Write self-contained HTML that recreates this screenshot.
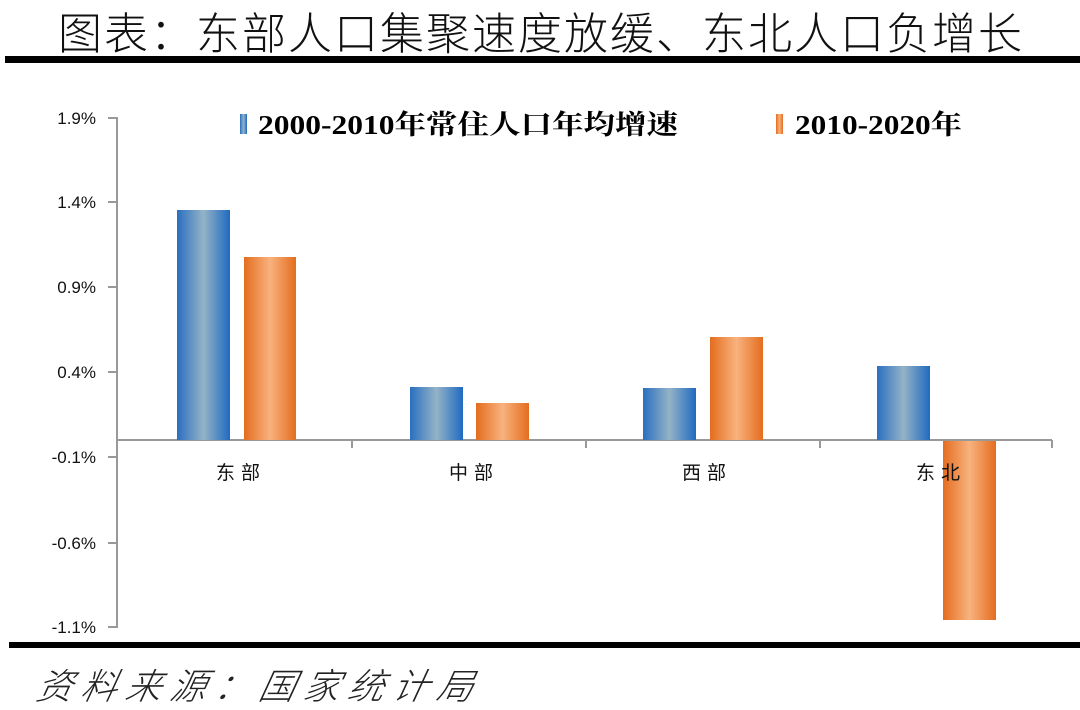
<!DOCTYPE html>
<html><head><meta charset="utf-8"><style>
body{margin:0;width:1080px;height:710px;background:#fff;overflow:hidden;position:relative;font-family:"Liberation Sans","Noto Sans CJK SC",sans-serif}
.t{position:absolute;white-space:nowrap}
</style></head><body>
<div class="t" style="left:58px;top:2px;font-size:44px;letter-spacing:2px;font-family:'Noto Sans CJK SC',sans-serif;font-weight:300;color:#111;line-height:56px">图表：东部人口集聚速度放缓、东北人口负增长</div>
<div style="position:absolute;left:5px;top:56px;width:1075px;height:7px;background:#000"></div>
<div style="position:absolute;left:9px;top:642px;width:1071px;height:6px;background:#000"></div>
<div class="t" style="left:38px;top:660px;font-size:36px;font-style:italic;letter-spacing:8.5px;font-family:'Noto Sans CJK SC',sans-serif;font-weight:300;color:#222;transform:skewX(-12deg);line-height:48px">资料来源：国家统计局</div>
<svg width="1080" height="710" style="position:absolute;left:0;top:0">
<defs>
<linearGradient id="b" x1="0" x2="1"><stop offset="0" stop-color="#2a6fc0"/><stop offset=".5" stop-color="#94b3c7"/><stop offset="1" stop-color="#1f6ac0"/></linearGradient>
<linearGradient id="o" x1="0" x2="1"><stop offset="0" stop-color="#e46d1f"/><stop offset=".5" stop-color="#f8b27e"/><stop offset="1" stop-color="#e46d1f"/></linearGradient>
</defs>
<g stroke="#999" stroke-width="2" fill="none">
<line x1="117" y1="117" x2="117" y2="628"/>
<line x1="108" y1="118" x2="117" y2="118"/><line x1="108" y1="202" x2="117" y2="202"/><line x1="108" y1="287" x2="117" y2="287"/><line x1="108" y1="372" x2="117" y2="372"/><line x1="108" y1="457" x2="117" y2="457"/><line x1="108" y1="543" x2="117" y2="543"/><line x1="108" y1="627" x2="117" y2="627"/>
<line x1="117" y1="440" x2="1052" y2="440"/>
<line x1="352" y1="440" x2="352" y2="448"/><line x1="586" y1="440" x2="586" y2="448"/><line x1="820" y1="440" x2="820" y2="448"/><line x1="1052" y1="440" x2="1052" y2="448"/>
</g>
<rect x="177" y="210" width="53" height="230" fill="url(#b)"/>
<rect x="244" y="257" width="52" height="183" fill="url(#o)"/>
<rect x="410" y="387" width="53" height="53" fill="url(#b)"/>
<rect x="476" y="403" width="53" height="37" fill="url(#o)"/>
<rect x="643" y="388" width="53" height="52" fill="url(#b)"/>
<rect x="710" y="337" width="53" height="103" fill="url(#o)"/>
<rect x="877" y="366" width="53" height="74" fill="url(#b)"/>
<rect x="943" y="441" width="53" height="179" fill="url(#o)"/>
<rect x="240" y="114" width="7" height="20" fill="url(#b)"/>
<rect x="776" y="114" width="7" height="20" fill="url(#o)"/>
<g font-size="17" fill="#111" text-anchor="end" font-family="Liberation Sans,sans-serif">
<text x="96" y="124">1.9%</text><text x="96" y="208">1.4%</text><text x="96" y="293">0.9%</text><text x="96" y="378">0.4%</text><text x="96" y="463">-0.1%</text><text x="96" y="549">-0.6%</text><text x="96" y="633">-1.1%</text>
</g>
<g font-size="19" fill="#111" text-anchor="middle" font-family="Noto Sans CJK SC,sans-serif" letter-spacing="6">
<text x="241" y="479">东部</text><text x="474" y="479">中部</text><text x="707" y="479">西部</text><text x="941" y="479">东北</text>
</g>
<g font-size="27" font-weight="bold" fill="#000" font-family="Liberation Serif,Noto Serif CJK SC,serif">
<text x="258" y="134" textLength="420" lengthAdjust="spacingAndGlyphs">2000-2010年常住人口年均增速</text>
<text x="795" y="134" textLength="167" lengthAdjust="spacingAndGlyphs">2010-2020年</text>
</g>
</svg>
</body></html>
